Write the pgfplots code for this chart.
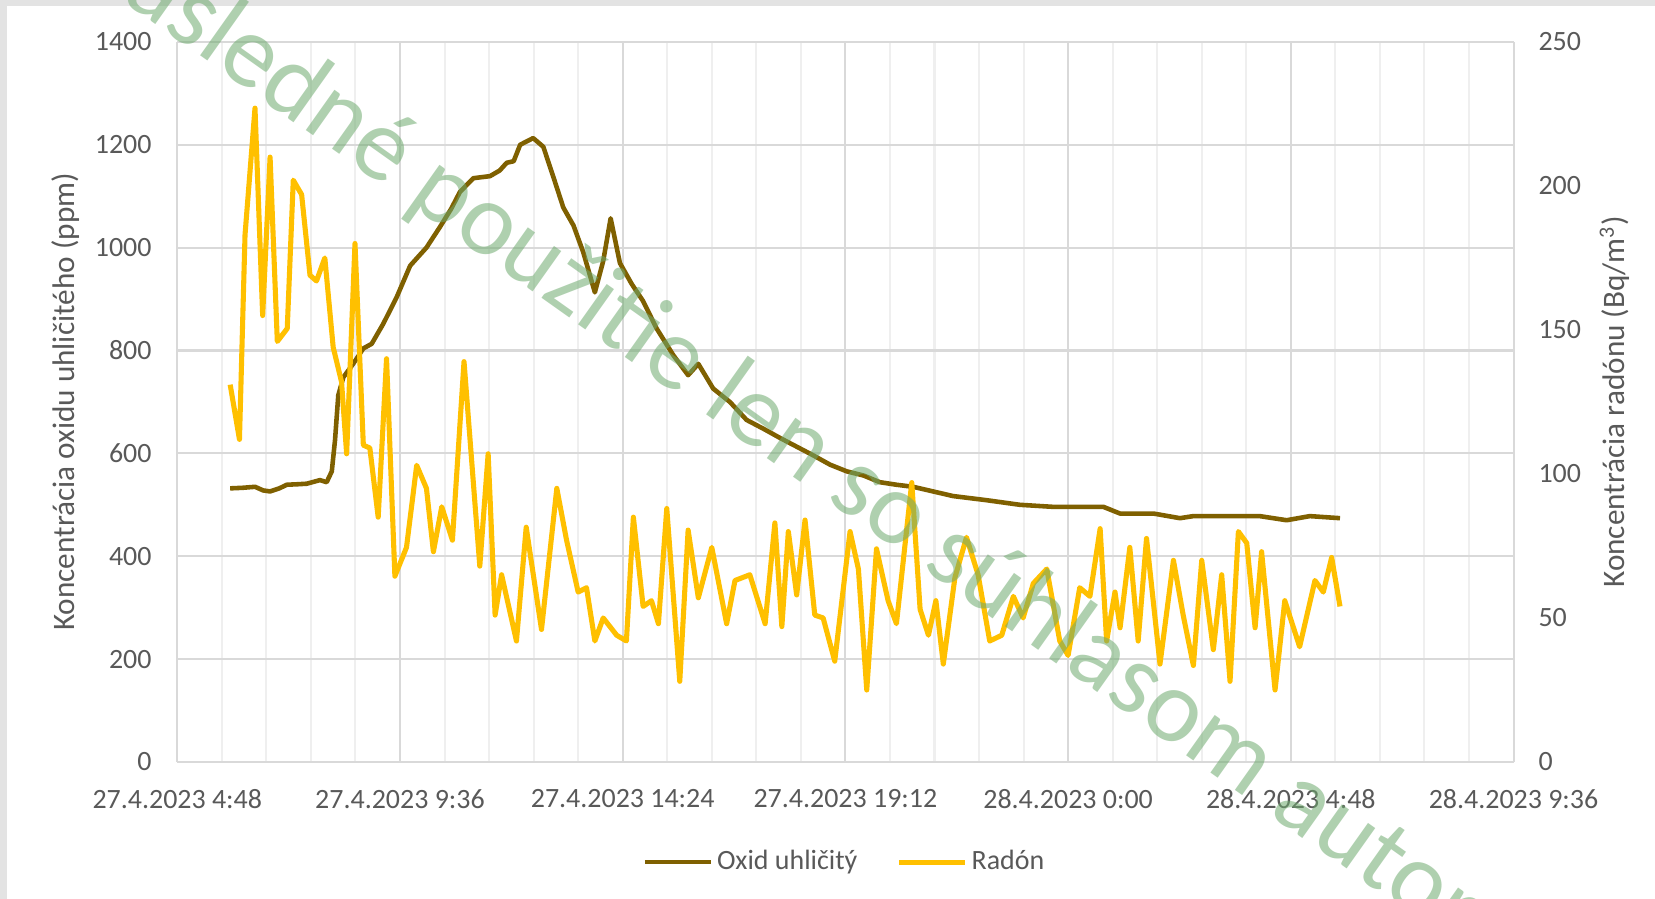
\documentclass[border=0pt]{standalone}
\usepackage{pgfplots}
\pgfplotsset{compat=1.18}
\usepackage{fontspec}
\setmainfont{Carlito}
\definecolor{co2}{HTML}{7F6000}
\definecolor{rn}{HTML}{FFC000}
\definecolor{txt}{HTML}{595959}
\definecolor{gridc}{HTML}{D9D9D9}
\definecolor{gridm}{HTML}{EFEFEF}
\definecolor{wm}{RGB}{110,170,110}
\begin{document}
\begin{tikzpicture}[font=\fontsize{11}{13}\selectfont]
\path[use as bounding box] (-69.8pt,-53.9pt) rectangle (581.8pt,300pt);
\fill[gray!22] (-69.8pt,-53.9pt) rectangle (581.8pt,300pt);
\fill[white] (-67.04pt,-53.9pt) rectangle (581.8pt,297.64pt);
\begin{axis}[
  at={(0,0)}, anchor=south west,
  scale only axis, width=526.1pt, height=283.5pt,
  xmin=4.8, xmax=33.6, ymin=0, ymax=1400,
  xtick={4.8,9.6,14.4,19.2,24,28.8,33.6},
  xticklabels={27.4.2023 4:48,27.4.2023 9:36,27.4.2023 14:24,27.4.2023 19:12,28.4.2023 0:00,28.4.2023 4:48,28.4.2023 9:36},
  minor x tick num=4,
  ytick={0,200,...,1400},
  grid=both,
  major grid style={gridc, line width=0.8pt},
  minor grid style={gridm, line width=0.8pt},
  axis line style={draw=none},
  major tick style={draw=none}, minor tick style={draw=none},
  tick label style={font=\fontsize{11}{13}\selectfont, text=txt},
  /pgf/number format/assume math mode=true,
  /pgf/number format/1000 sep={},
  yticklabel style={xshift=-6.6pt},
  xticklabel style={yshift=-7.3pt},
  every axis y label/.style={at={(axis description cs:0,0.5)}, xshift=-43.8pt, rotate=90, anchor=center, text=txt, font=\fontsize{12.3}{14}\selectfont},
  ylabel={Koncentrácia oxidu uhličitého (ppm)},
]
\addplot[co2, line width=1.8pt, line join=round] table[row sep=\\] {
x y\\
5.94 532\\ 6.2 533\\ 6.475 535\\ 6.65 528\\ 6.8 526\\ 7.0 532\\ 7.16 539\\ 7.4 540\\ 7.59 541\\ 7.875 548\\
8.02 544\\ 8.13 565\\ 8.2 626\\ 8.27 713\\ 8.38 748\\ 8.59 774\\ 8.81 804\\ 8.99 813\\ 9.24 852\\ 9.53 904\\
9.82 965\\ 10.17 1000\\ 10.46 1040\\ 10.7 1075\\ 10.89 1108\\ 11.18 1135\\ 11.54 1139\\ 11.75 1150\\ 11.9 1165\\ 12.05 1168\\
12.19 1200\\ 12.47 1213\\ 12.69 1196\\ 12.9 1139\\ 13.12 1078\\ 13.34 1043\\ 13.55 991\\ 13.8 913\\ 13.98 974\\ 14.14 1057\\
14.34 970\\ 14.59 930\\ 14.84 896\\ 15.13 843\\ 15.49 791\\ 15.81 752\\ 16.03 774\\ 16.35 726\\ 16.71 700\\ 17.07 665\\
17.43 648\\ 17.79 630\\ 18.15 613\\ 18.51 596\\ 18.87 578\\ 19.23 565\\ 19.59 557\\ 19.94 544\\ 20.3 539\\ 20.66 535\\
21.09 526\\ 21.52 517\\ 22.24 509\\ 22.96 500\\ 23.68 496\\ 24.4 496\\ 24.76 496\\ 25.12 483\\ 25.84 483\\ 26.41 474\\
26.7 478\\ 27.42 478\\ 28.13 478\\ 28.71 470\\ 29.21 478\\ 29.86 474\\
};
\end{axis}
\begin{axis}[
  at={(0,0)}, anchor=south west,
  scale only axis, width=526.1pt, height=283.5pt,
  xmin=4.8, xmax=33.6, ymin=0, ymax=250,
  axis x line=none, axis y line*=right,
  ytick={0,50,...,250},
  axis line style={draw=none},
  major tick style={draw=none}, minor tick style={draw=none},
  tick label style={font=\fontsize{11}{13}\selectfont, text=txt},
  /pgf/number format/assume math mode=true,
  yticklabel style={xshift=6.3pt},
  every axis y label/.style={at={(axis description cs:1,0.5)}, xshift=39.9pt, rotate=90, anchor=center, text=txt, font=\fontsize{12.3}{14}\selectfont},
  ylabel={Koncentrácia radónu (Bq/m\textsuperscript{3})},
  legend style={at={(0.500,-0.139)}, anchor=center, draw=none, fill=none, legend columns=2, font=\fontsize{11}{13}\selectfont, text=txt, nodes={inner xsep=1.5pt}, /tikz/every even column/.append style={column sep=14pt}},
  legend cell align=left,
  legend image code/.code={\draw[#1] (0pt,0pt) -- (26pt,0pt);},
]
\addlegendimage{co2, line width=1.8pt}
\addlegendentry{Oxid uhličitý}
\addplot[rn, line width=2pt, line join=round] table[row sep=\\] {
x y\\
5.94 131\\ 6.14 112\\ 6.26 183\\ 6.475 227\\ 6.64 155\\ 6.8 210\\ 6.956 146\\ 7.17 150.5\\ 7.30 202\\ 7.48 197\\
7.66 169\\ 7.80 167\\ 7.98 175\\ 8.16 144\\ 8.34 132\\ 8.45 107\\ 8.63 180\\ 8.81 110\\ 8.95 109\\ 9.13 85\\
9.31 140\\ 9.49 64.5\\ 9.74 74.5\\ 9.96 103\\ 10.17 95\\ 10.32 73\\ 10.5 88.6\\ 10.73 77\\ 10.98 139\\ 11.32 68\\
11.5 107\\ 11.65 51\\ 11.79 65\\ 12.11 42\\ 12.32 81.5\\ 12.65 46\\ 12.98 95\\ 13.19 77\\ 13.44 59\\ 13.62 60.5\\
13.8 42\\ 13.98 50\\ 14.27 44\\ 14.48 42\\ 14.63 85\\ 14.84 54\\ 15.02 56\\ 15.17 48\\ 15.35 88\\ 15.63 28\\
15.81 80.5\\ 16.03 57\\ 16.32 74.5\\ 16.64 48\\ 16.82 63\\ 17.14 65\\ 17.47 48\\ 17.68 83\\ 17.83 47\\ 17.97 80\\
18.15 58\\ 18.33 84\\ 18.54 51\\ 18.72 50\\ 18.97 35\\ 19.3 80\\ 19.48 67\\ 19.66 25\\ 19.87 74\\ 20.12 56\\
20.3 48\\ 20.63 97\\ 20.81 53\\ 20.99 44\\ 21.15 56\\ 21.31 34\\ 21.56 64\\ 21.81 78\\ 22.06 65\\ 22.31 42\\
22.57 44\\ 22.82 57.5\\ 23.03 50\\ 23.25 62\\ 23.54 67\\ 23.82 42\\ 24.0 37\\ 24.25 60.5\\ 24.47 57.5\\ 24.69 81\\
24.83 42\\ 25.01 59\\ 25.12 46.6\\ 25.33 74.5\\ 25.51 42\\ 25.69 77.6\\ 25.98 34\\ 26.27 70\\ 26.48 51\\ 26.7 33.5\\
26.88 70\\ 27.13 39\\ 27.31 65\\ 27.49 28\\ 27.67 80\\ 27.85 76\\ 28.03 46.6\\ 28.17 73\\ 28.46 25\\ 28.67 56\\
28.99 40\\ 29.32 63\\ 29.5 59\\ 29.68 71\\ 29.86 54\\
};
\addlegendentry{Radón}
\end{axis}
\node[rotate=-35.35, anchor=center, text=wm, opacity=0.55, font=\fontsize{40.8}{48}\selectfont] at (243.5pt,125pt) {Následné použitie len so súhlasom autora};
\end{tikzpicture}
\end{document}
